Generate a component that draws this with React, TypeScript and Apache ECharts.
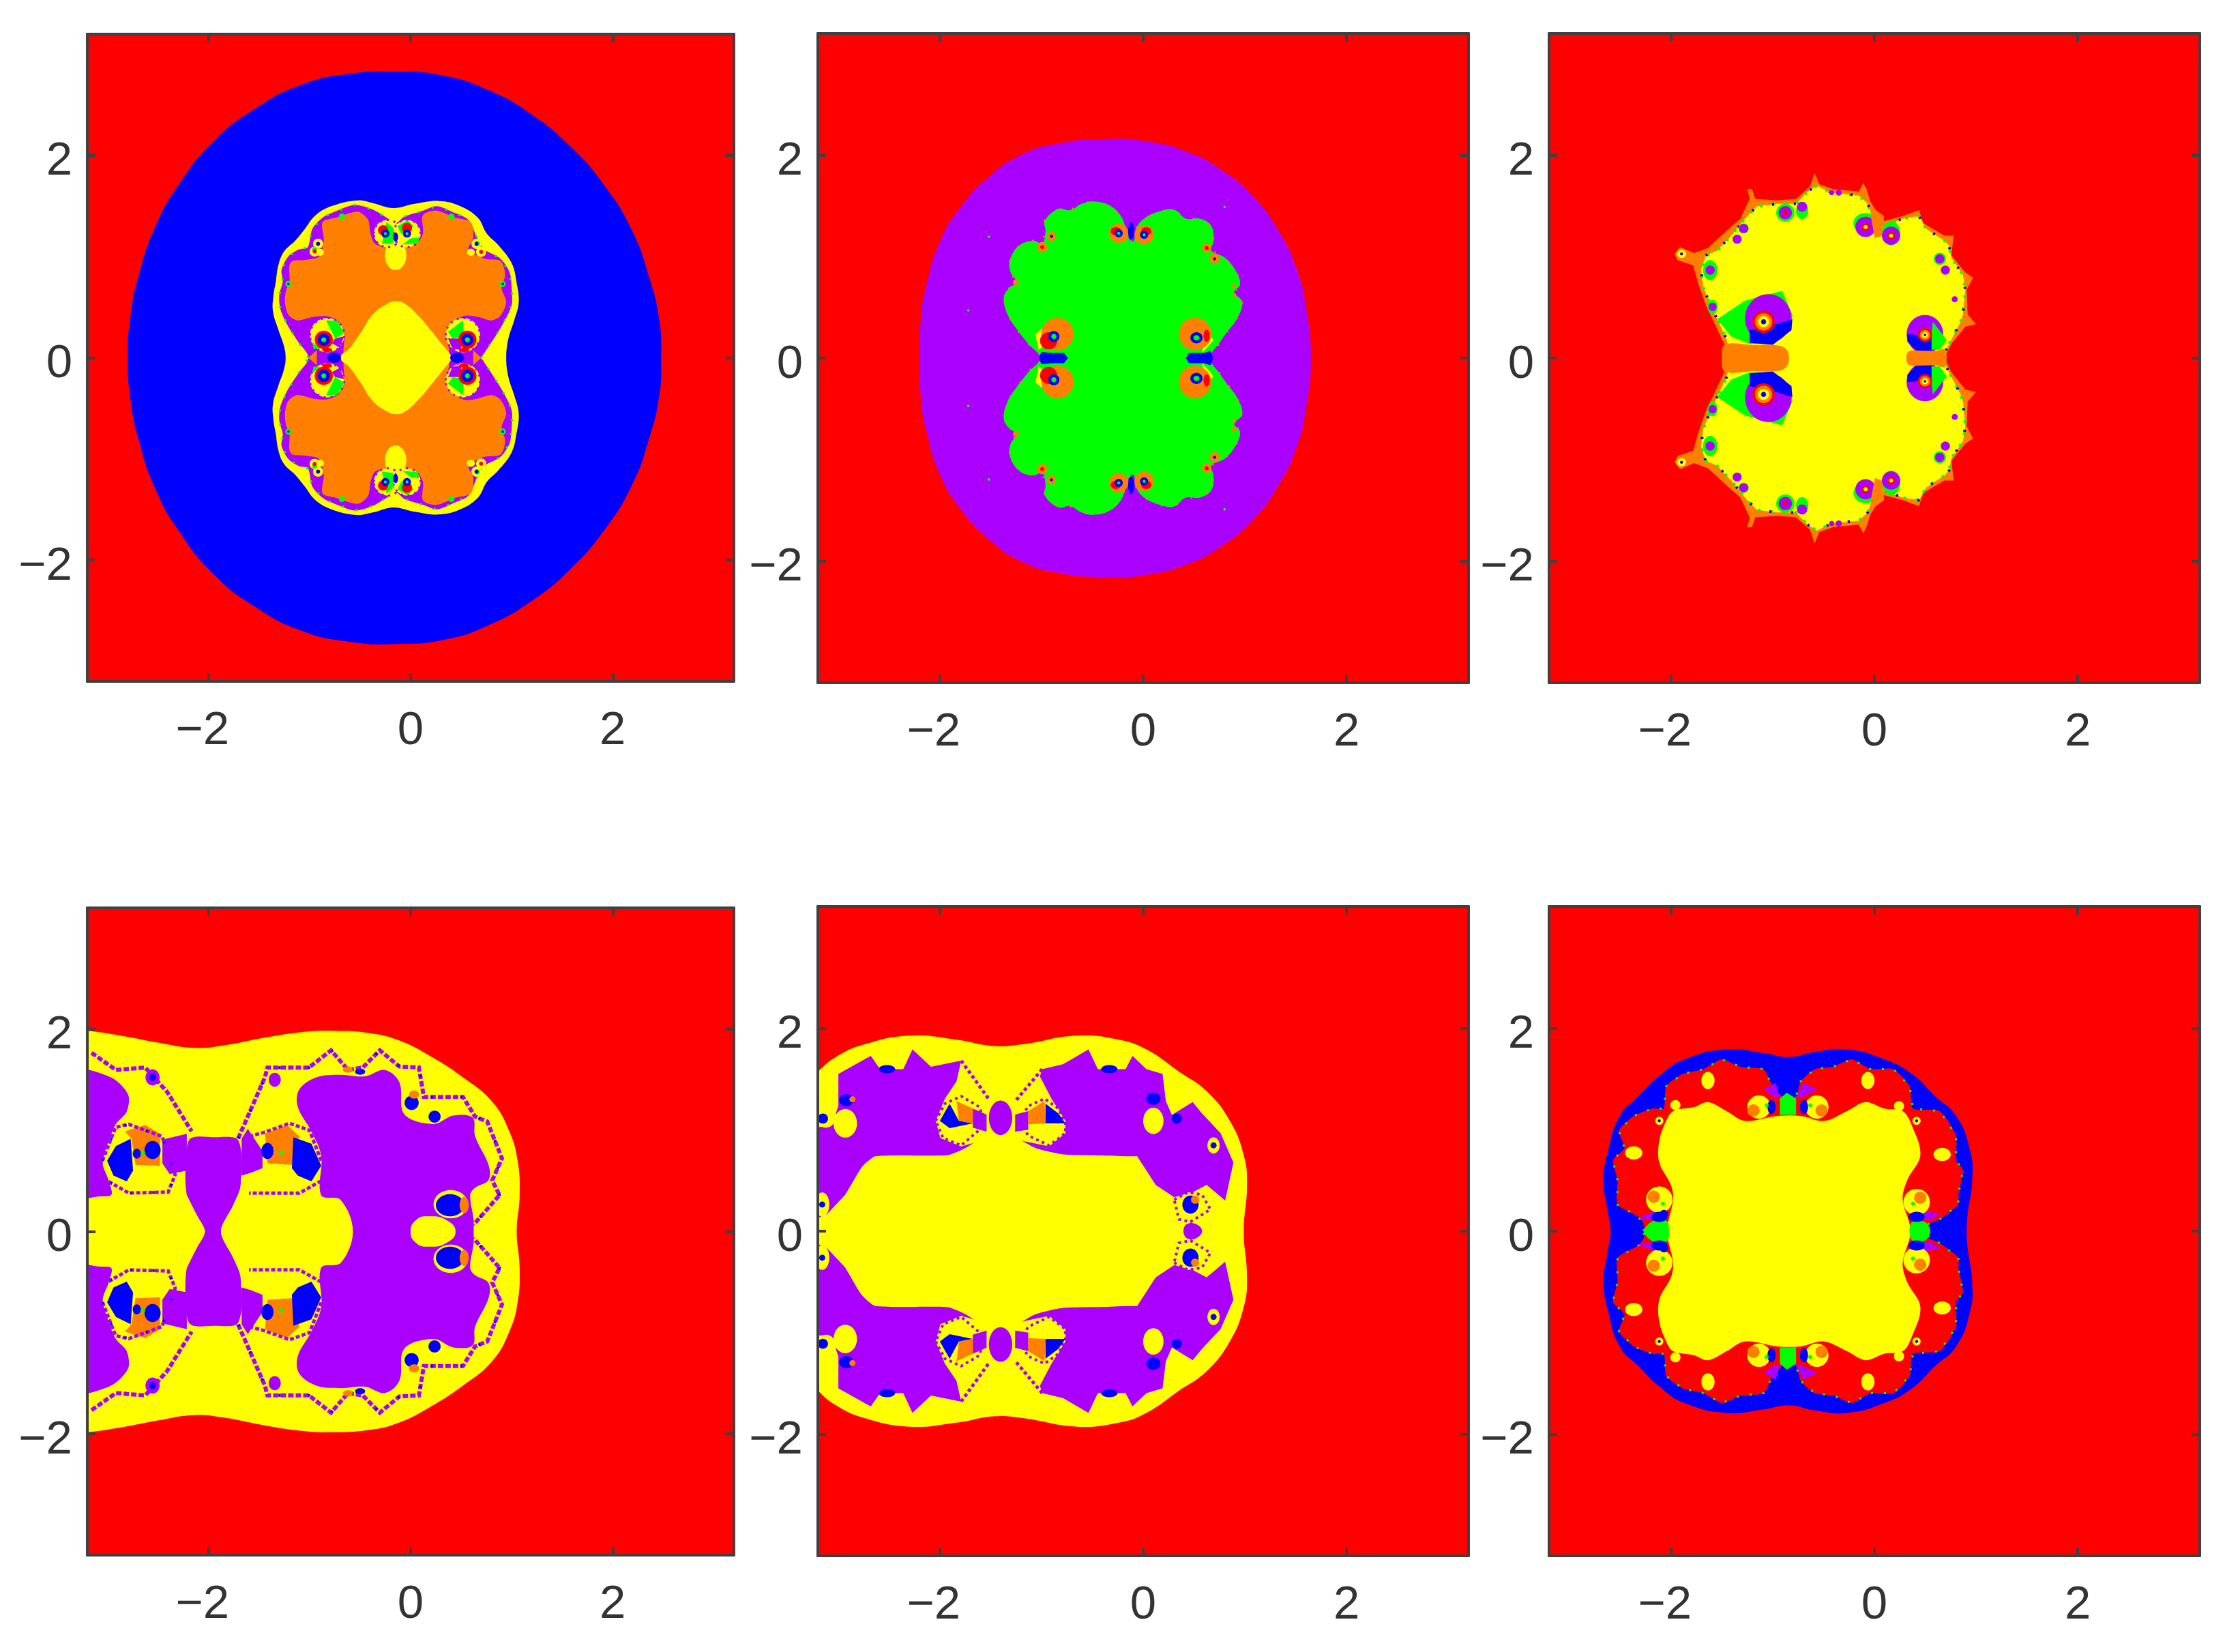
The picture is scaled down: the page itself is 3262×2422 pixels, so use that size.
import React, { useEffect, useRef } from "react";
import * as echarts from "echarts";

const tickValues = [-2, 0, 2];
const axisRange = [-3.2, 3.2];

// ---------- Panel 1 ----------
const p1Blue = [[-2.8,0],[-2.77,.43],[-2.69,.82],[-2.53,1.29],[-2.29,1.72],[-1.95,2.14],[-1.56,2.45],[-1.08,2.7],[-.59,2.81],[-.135,2.83],[.32,2.79],[.76,2.65],[1.19,2.41],[1.58,2.09],[1.92,1.7],[2.19,1.26],[2.36,.8],[2.46,.38],[2.48,0]];
const p1Yellow = [[-1.237,0],[-1.255,.12],[-1.31,.28],[-1.363,.46],[-1.357,.62],[-1.334,.754],[-1.31,.91],[-1.255,1.047],[-1.14,1.16],[-1.05,1.27],[-.94,1.41],[-.78,1.5],[-.533,1.555],[-.375,1.53],[-.17,1.48],[.03,1.52],[.28,1.55],[.483,1.503],[.664,1.386],[.754,1.228],[.867,1.115],[1,.935],[1.047,.754],[1.07,.55],[1.025,.37],[.968,.19],[.946,0]];
const p1Purple = [[-1.011,0],[-1.12,.167],[-1.221,.325],[-1.289,.483],[-1.3,.619],[-1.266,.754],[-1.278,.867],[-1.21,1.002],[-1.108,1.07],[-1.018,1.093],[-.973,1.273],[-.871,1.386],[-.758,1.442],[-.555,1.51],[-.375,1.465],[-.239,1.386],[-.149,1.33],[-.059,1.397],[.122,1.454],[.257,1.499],[.415,1.442],[.573,1.363],[.664,1.172],[.731,1.07],[.889,.98],[.98,.844],[1.002,.664],[1.002,.528],[.957,.415],[.867,.257],[.72,.032],[.698,0]];
const p1Orange = [[-.664,.077],[-.657,.257],[-.713,.359],[-.826,.411],[-.962,.404],[-1.12,.37],[-1.21,.427],[-1.244,.551],[-1.233,.664],[-1.199,.754],[-1.199,.912],[-1.165,.957],[-1.041,.968],[-.905,1.002],[-.86,1.16],[-.871,1.341],[-.736,1.386],[-.6,1.431],[-.51,1.442],[-.42,1.363],[-.397,1.228],[-.352,1.126],[-.239,1.097],[-.059,1.097],[.054,1.126],[.122,1.228],[.122,1.409],[.257,1.454],[.438,1.386],[.596,1.341],[.619,1.183],[.573,1.07],[.731,.98],[.889,.957],[.935,.822],[.901,.686],[.946,.551],[.889,.415],[.799,.37],[.664,.404],[.528,.415],[.393,.325],[.359,.212],[.381,.077]];
const p1Lens = [[-.691,0],[-.6,.099],[-.488,.257],[-.375,.427],[-.239,.528],[-.149,.558],[-.059,.535],[.077,.415],[.212,.257],[.302,.144],[.393,.032],[.404,0]];
const p1OrangeWedgeL = [[-1.011,0],[-.93,.07],[-.93,-.07]];
const p1OrangeWedgeR = [[.698,0],[.62,.07],[.62,-.07]];
const p1DropDots = [[-.149,1.013,.106,.147]];
const p1BigDots = [[-.826,.223,.169,.169],[.517,.223,.169,.169],[-.228,1.228,.135,.135],[-.036,1.228,.135,.135]];
const p1SideDots = [[-.95,1.05,.05,.05],[-.916,1.126,.05,.05],[.652,1.126,.05,.05],[.698,1.047,.05,.05]];
const p1GreenDots = [[-1.21,.73,.03,.03],[.912,.73,.03,.03],[-.68,1.397,.03,.03],[.404,1.397,.03,.03],[-.95,1.07,.025,.025],[.66,1.13,.025,.025]];
const p1YellowSmall = [[-.898,1.043,.04,.035],[.596,1.043,.04,.035]];
const p1GreenL = [[-.837,.37],[-.725,.366],[-.657,.246],[-.747,.19]];
const p1GreenL2 = [[-.973,.156],[-.894,.088],[-.962,.088]];
const p1PurpleL = [[-.747,.19],[-.657,.212],[-.702,.099],[-.781,.144]];
const p1GreenR = [[.37,.257],[.517,.37],[.528,.212],[.415,.19]];
const p1PurpleR = [[.37,.19],[.483,.19],[.506,.077],[.415,.088]];
const p1GreenT = [[-.239,1.341],[-.172,1.284],[-.172,1.138],[-.284,1.126]];
const p1GreenT2 = [[-.13,1.3],[-.03,1.36],[.03,1.3],[-.09,1.22]];
const p1GreenT3 = [[-.08,1.12],[.07,1.13],[.09,1.19],[0,1.18]];
const p1RedDots = [[-.86,.178,.09,.09],[.562,.178,.09,.09],[-.826,.077,.05,.02],[.528,.077,.05,.02],[-.273,1.262,.05,.05],[-.036,1.284,.05,.05],[-.95,1.05,.02,.02],[.698,1.047,.02,.02]];
const p1BlueDots = [[-.86,.178,.06,.06],[.562,.178,.06,.06],[-.25,1.228,.04,.04],[-.036,1.228,.04,.04],[-.149,1.194,.025,.045],[-.758,0,.068,.05],[.46,0,.068,.05],[-.916,1.126,.02,.02],[.652,1.126,.02,.02],[-1.21,.73,.012,.012],[.912,.73,.012,.012]];
const p1CoreDots = [[-.86,.178,.025,.025],[.562,.178,.025,.025],[-.25,1.228,.015,.015],[-.036,1.228,.015,.015]];

// ---------- Panel 2 ----------
const p2Purple = [[-2.2,0],[-2.187,.383],[-2.132,.722],[-1.995,1.157],[-1.79,1.496],[-1.517,1.787],[-1.198,2.005],[-.834,2.116],[-.378,2.16],[.032,2.136],[.442,2.029],[.761,1.86],[1.08,1.593],[1.33,1.254],[1.513,.867],[1.604,.479],[1.649,0]];
const p2Green = [[-1.016,0],[-1.13,.14],[-1.244,.286],[-1.335,.431],[-1.371,.6],[-1.312,.697],[-1.244,.746],[-1.303,.843],[-1.312,.964],[-1.221,1.109],[-1.084,1.157],[-.993,1.133],[-.961,1.254],[-.97,1.351],[-.834,1.472],[-.72,1.458],[-.606,1.521],[-.492,1.545],[-.333,1.506],[-.219,1.4],[-.164,1.254],[-.128,1.157],[-.091,1.157],[-.068,1.278],[.009,1.375],[.169,1.448],[.305,1.462],[.419,1.375],[.556,1.375],[.67,1.303],[.692,1.157],[.67,1.061],[.806,.988],[.92,.843],[.952,.722],[.897,.649],[.975,.552],[.92,.383],[.829,.262],[.761,.165],[.661,0]];
const p2BarL = [[-1.03,0],[-1,.06],[-.9,.05],[-.78,.05],[-.74,0]];
const p2BarR = [[.42,0],[.45,.05],[.6,.05],[.66,.07],[.69,0]];
const p2OrangeDots = [[-.843,.237,.16,.16],[.51,.237,.16,.16],[-.241,1.23,.095,.095],[.009,1.215,.095,.095],[-.993,1.094,.05,.05],[-.902,1.2,.045,.045],[.624,1.085,.045,.045],[.702,.978,.05,.05],[-1.253,.746,.028,.028],[.888,.707,.02,.02],[.897,.62,.018,.018]];
const p2RedDots = [[-.93,.17,.085,.085],[.624,.22,.03,.06],[-.27,1.25,.05,.04],[.03,1.25,.05,.04],[-.993,1.094,.02,.02],[.624,1.085,.02,.02]];
const p2YellowL = [[-1.03,.082],[-1.061,.237],[-.993,.295],[-.948,.14]];
const p2YellowR = [[.579,.05],[.66,.14],[.69,.18],[.62,.26]];
const p2BlueDots = [[-.879,.213,.055,.055],[.524,.2,.06,.055],[-.241,1.23,.04,.04],[.009,1.215,.04,.04],[-.118,1.254,.03,.085],[-.902,1.2,.015,.015],[.702,.978,.015,.015]];
const p2CoreDots = [[-.879,.213,.025,.025],[.524,.2,.03,.025],[-.241,1.23,.015,.015],[.009,1.215,.015,.015]];
const p2StrayGreen = [[-1.517,1.196,.012,.012],[-1.72,.47,.012,.012],[.8,1.49,.012,.012]];

// ---------- Panel 3 ----------
const p3Orange = [[-1.487,0],[-1.478,.14],[-1.546,.286],[-1.66,.528],[-1.729,.722],[-1.783,.915],[-1.934,.964],[-1.966,1.027],[-1.911,1.094],[-1.774,1.036],[-1.637,1.085],[-1.455,1.254],[-1.318,1.375],[-1.227,1.569],[-1.25,1.666],[-1.204,1.666],[-1.172,1.569],[-.953,1.554],[-.771,1.569],[-.634,1.69],[-.588,1.826],[-.543,1.714],[-.406,1.666],[-.155,1.642],[-.109,1.724],[-.078,1.666],[-.041,1.545],[.05,1.4],[.096,1.351],[.278,1.4],[.438,1.458],[.483,1.327],[.689,1.206],[.78,1.206],[.757,1.012],[.894,.843],[.971,.794],[.908,.673],[.917,.431],[.999,.334],[.894,.31],[.757,.14],[.689,0]];
const p3Yellow = [[-1.409,0],[-1.455,.189],[-1.523,.334],[-1.615,.528],[-1.683,.697],[-1.706,.867],[-1.66,1.012],[-1.546,1.061],[-1.409,1.206],[-1.273,1.375],[-1.158,1.496],[-.953,1.521],[-.771,1.521],[-.657,1.642],[-.566,1.7],[-.429,1.632],[-.155,1.603],[-.064,1.521],[-.018,1.375],[.096,1.303],[.278,1.375],[.438,1.4],[.506,1.278],[.689,1.157],[.734,1.109],[.757,.988],[.871,.818],[.894,.673],[.871,.431],[.848,.358],[.734,.14],[.666,0]];
const p3BarL = [[-1.5,0],[-1.47,.13],[-1.2,.13],[-.95,.125],[-.87,.09],[-.84,0]];
const p3BarR = [[.315,0],[.33,.06],[.38,.075],[.6,.07],[.689,.085],[.71,0]];
const p3Eye = [[-1.546,.383],[-1.273,.567],[-.908,.663],[-.807,.431],[-.816,.286],[-.999,.15],[-1.227,.14],[-1.409,.213]];
const p3EyeBlue = [[-1.227,.15],[-.999,.131],[-.816,.276],[-.807,.383],[-.999,.324],[-1.227,.276]];
const p3EyeRGreen = [[.575,.358],[.711,.179],[.643,.082],[.561,.082],[.561,.237]];
const p3EyeRBlue = [[.324,.237],[.561,.213],[.561,.073],[.415,.073],[.324,.165]];
const p3Tongue = [[-.041,1.496],[.096,1.4],[.073,1.206],[.005,1.182],[-.027,1.351]];
const p3GreenDots = [[-.876,1.433,.09,.09],[-.711,1.45,.06,.08],[-.087,1.33,.12,.1],[.164,1.23,.09,.12],[-1.615,.867,.07,.1],[-1.592,.504,.05,.07],[.643,.978,.06,.06],[-1.286,1.278,.05,.05]];
const p3PurpleDots = [[-1.044,.39,.228,.24],[.497,.235,.18,.19],[-.876,1.433,.065,.065],[-.711,1.492,.05,.05],[-.087,1.293,.1,.1],[.164,1.206,.09,.09],[-1.286,1.278,.045,.045],[-1.35,1.172,.045,.045],[-1.615,.867,.045,.045],[.698,.867,.045,.045],[.643,.978,.045,.045],[-1.592,.504,.04,.04],[-.35,1.63,.03,.03],[-.42,1.63,.025,.025],[.79,.58,.03,.03]];
const p3RedDots = [[-1.09,.358,.11,.11],[.497,.228,.07,.07],[-.087,1.293,.04,.04],[.164,1.206,.04,.04],[-.876,1.433,.025,.025]];
const p3OrangeDots = [[-1.09,.358,.085,.085],[.497,.228,.05,.05]];
const p3CoreYellow = [[-1.09,.358,.055,.055],[.497,.228,.03,.03],[-.087,1.293,.02,.02],[.164,1.206,.02,.02],[-1.897,1.027,.045,.04]];
const p3CoreBlue = [[-1.09,.358,.025,.025],[.497,.228,.012,.012],[-1.897,1.027,.015,.015]];

// ---------- Panel 4 ----------
const p4Yellow = [[-3.5,0],[-3.5,2.0],[-3.2,1.985],[-2.868,1.937],[-2.481,1.864],[-2.143,1.816],[-1.852,1.84],[-1.466,1.913],[-1.079,1.971],[-.788,1.985],[-.401,1.961],[-.111,1.888],[.179,1.743],[.518,1.524],[.808,1.282],[.977,.99],[1.059,.699],[1.079,.359],[1.05,0]];
const p4Blob = [[-.571,0],[-.692,.311],[-.885,.359],[-.885,.748],[-.982,.99],[-1.117,1.233],[-1.103,1.403],[-.933,1.524],[-.692,1.549],[-.45,1.534],[-.256,1.597],[-.111,1.476],[-.063,1.16],[.227,1.063],[.421,1.146],[.614,1.126],[.638,.942],[.774,.65],[.769,.505],[.638,.432],[.59,.359],[.624,.117],[.624,0]];
const p4Hourglass = [[-2.036,0],[-2.118,.165],[-2.215,.359],[-2.225,.699],[-2.181,.917],[-1.949,.932],[-1.707,.903],[-1.683,.456],[-1.756,.262],[-1.877,0]];
const p4LeftBlob = [[-3.3,1.573],[-2.965,1.524],[-2.796,1.354],[-2.81,1.184],[-2.917,1.063],[-2.989,.893],[-3.047,.675],[-2.989,.505],[-2.965,.359],[-3.207,.311],[-3.3,.311]];
const p4CigarR = [[-1.877,0],[-1.804,.141],[-1.707,.286],[-1.562,.335],[-1.175,.335],[-.885,.311],[-.716,.238],[-.595,.092],[-.58,0]];
const p4CigarL = [[-3.3,0],[-3.3,.31],[-3.1,.345],[-2.6,.36],[-2.215,.359],[-2.118,.165],[-2.036,0]];
const p4Petal = [[0,0],[.058,.117],[.179,.15],[.348,.117],[.445,0]];
const p4PieceL = [[-2.457,.908],[-2.215,.966],[-2.215,.602],[-2.385,.568],[-2.457,.675]];
const p4PieceR = [[-1.673,.917],[-1.611,1.015],[-1.466,.796],[-1.466,.626],[-1.586,.578],[-1.673,.553]];
const p4SquareLBlue = [[-3.004,.699],[-2.917,.845],[-2.771,.917],[-2.747,.602],[-2.81,.495],[-2.941,.553]];
const p4SquareLOrange = [[-2.829,.99],[-2.626,1.053],[-2.481,.966],[-2.481,.65],[-2.723,.66],[-2.762,.917]];
const p4SquareROrange = [[-1.441,.966],[-1.224,1.053],[-1.103,.942],[-1.175,.66],[-1.417,.675]];
const p4SquareRBlue = [[-1.161,.932],[-.982,.869],[-.885,.65],[-.982,.495],[-1.117,.553],[-1.175,.626]];
const p4NetA = [[-3.158,1.767],[-2.917,1.597],[-2.626,1.621],[-2.409,1.379],[-2.167,.99]];
const p4NetB = [[-1.707,.92],[-1.442,1.524],[-1.417,1.621],[-1.006,1.621],[-.788,1.791],[-.619,1.597],[-.474,1.621],[-.305,1.791],[-.111,1.631],[.082,1.621],[.131,1.33],[.518,1.33],[.638,1.136],[.759,1.087],[.904,.723],[.808,.505],[.88,.359],[.624,.068]];
const p4NetC = [[-3.05,.7],[-2.92,1.03],[-2.79,1.06],[-2.46,.94],[-2.33,.56],[-2.4,.39],[-2.79,.38],[-3.0,.5]];
const p4NetD = [[-.885,.7],[-1.0,1.0],[-1.2,1.07],[-1.45,.98],[-1.67,.92]];
const p4NetE = [[-.885,.5],[-1.1,.38],[-1.6,.38]];
const p4BlueDots = [[-2.554,.806,.08,.09],[-2.71,.77,.04,.05],[-1.417,.796,.06,.08],[.01,1.272,.07,.07],[.237,1.136,.06,.06],[.39,.26,.14,.11],[-2.554,1.524,.035,.035],[-.5,1.58,.05,.03]];
const p4OrangeDots = [[.034,1.354,.05,.04],[.53,.262,.045,.08],[-.62,1.6,.05,.03]];
const p4GreenDots = [[-2.65,.78,.022,.022],[-1.282,.78,.022,.022]];
const p4PurpleDots = [[-2.554,1.524,.07,.08],[-1.345,1.5,.06,.07]];
const p4YellowDots = [[.082,1.146,.05,.05],[.397,.27,.17,.14]];

// ---------- Panel 5 ----------
const p5Yellow = [[-3.5,0],[-3.5,1.25],[-3.2,1.57],[-3.02,1.718],[-2.747,1.84],[-2.292,1.927],[-1.836,1.888],[-1.472,1.825],[-1.198,1.84],[-.651,1.927],[-.241,1.888],[.032,1.791],[.351,1.573],[.624,1.379],[.852,1.087],[.989,.748],[1.021,.456],[.989,0]];
const p5Band = [[-3.3,1.015],[-3.066,1.039],[-2.998,1.233],[-2.998,1.549],[-2.679,1.728],[-2.588,1.597],[-2.36,1.597],[-2.269,1.791],[-2.087,1.621],[-1.79,1.68],[-1.836,1.476],[-1.95,1.306],[-2.041,1.087],[-1.995,.917],[-1.79,.835],[-1.585,.893],[-1.198,.893],[-.925,.835],[-.765,.966],[-.765,1.087],[-.902,1.306],[-1.016,1.524],[-.993,1.597],[-.788,1.646],[-.538,1.791],[-.446,1.597],[-.173,1.597],[-.105,1.728],[.032,1.597],[.191,1.549],[.223,1.282],[.282,1.146],[.487,1.272],[.579,1.16],[.761,.966],[.888,.675],[.806,.301],[.624,.456],[.487,.383],[.305,.335],[.123,.456],[-.059,.738],[-2.61,.738],[-2.77,.626],[-2.929,.359],[-3.112,.165],[-3.3,.09]];
const p5Center = [[-3.203,0],[-3.066,.165],[-2.929,.359],[-2.77,.626],[-2.633,.738],[-1.927,.748],[-1.745,.82],[-1.563,.932],[-1.403,.951],[-1.244,.917],[-1.062,.82],[-.788,.757],[-.196,.738],[-.036,.675],[.123,.408],[.305,.165],[.396,0]];
const p5Lens = [[.396,0],[.43,.07],[.52,.07],[.58,0]];
const p5SquareL = [[-2.041,1.087],[-1.95,1.257],[-1.79,1.33],[-1.608,1.223],[-1.563,1.039],[-1.79,.845],[-1.968,.917]];
const p5SquareLBlue = [[-2,1.087],[-1.904,1.257],[-1.813,1.087],[-1.676,1.063],[-1.904,1.015]];
const p5SquareLOrange = [[-1.836,1.282],[-1.676,1.209],[-1.676,1.063],[-1.813,1.087]];
const p5SquareR = [[-1.221,1.087],[-1.13,1.233],[-.97,1.306],[-.834,1.209],[-.765,1.063],[-.765,.966],[-.925,.845],[-1.13,.942]];
const p5SquareROrange = [[-1.13,1.184],[-.97,1.282],[-.961,1.063],[-1.13,1.053]];
const p5SquareRBlue = [[-.961,1.257],[-.834,1.16],[-.765,1.063],[-.961,1.063]];
const p5PieceL = [[-1.676,1.209],[-1.54,1.15],[-1.54,.98],[-1.676,1.02]];
const p5PieceR = [[-1.26,1.15],[-1.13,1.184],[-1.13,1.0],[-1.26,.98]];
const p5MidSquare = [[.305,.311],[.442,.383],[.579,.359],[.661,.214],[.465,.092],[.351,.117]];
const p5LineA = [[-1.79,1.68],[-1.51,1.29]];
const p5LineB = [[-.993,1.597],[-1.25,1.29]];
const p5YellowDots = [[-2.93,1.063,.115,.14],[.1,1.087,.1,.13],[-3.157,.262,.07,.12],[-3.12,1.14,.1,.12],[.692,.845,.06,.08]];
const p5PurpleDots = [[-1.403,1.117,.115,.17]];
const p5BlueDots = [[-2.92,1.29,.07,.06],[-3.15,1.11,.05,.05],[.1,1.306,.07,.06],[.33,1.11,.05,.05],[-2.52,1.597,.08,.04],[-.333,1.597,.08,.04],[.692,.845,.03,.03],[.465,.262,.08,.09],[-3.157,.262,.03,.03]];
const p5OrangeDots = [[.51,.31,.04,.04],[-2.86,1.3,.03,.03]];

// ---------- Panel 6 ----------
const p6Blue = [[-2.595,0],[-2.627,.214],[-2.664,.505],[-2.618,.796],[-2.504,1.136],[-2.322,1.33],[-2.094,1.549],[-1.865,1.694],[-1.455,1.791],[-1.09,1.757],[-.839,1.718],[-.588,1.767],[-.269,1.791],[.096,1.694],[.369,1.549],[.597,1.33],[.803,1.136],[.94,.796],[.962,.505],[.917,.165],[.908,0]];
const p6Red = [[-2.267,0],[-2.267,.068],[-2.322,.141],[-2.527,.262],[-2.527,.505],[-2.572,.699],[-2.458,.82],[-2.513,.99],[-2.367,1.136],[-2.185,1.209],[-2.071,1.209],[-2.048,1.427],[-1.888,1.549],[-1.683,1.597],[-1.501,1.694],[-1.318,1.621],[-1.09,1.597],[-.999,1.427],[-.908,1.33],[-.771,1.33],[-.725,1.476],[-.588,1.597],[-.406,1.621],[-.223,1.694],[-.041,1.597],[.187,1.597],[.347,1.427],[.379,1.209],[.643,1.184],[.803,.942],[.803,.699],[.871,.602],[.826,.359],[.826,.262],[.643,.117],[.529,.068],[.529,0]];
const p6Yellow = [[-2.039,0],[-1.98,.311],[-2.002,.456],[-2.116,.675],[-2.116,.893],[-2.048,1.087],[-1.979,1.184],[-1.774,1.223],[-1.637,1.272],[-1.455,1.184],[-1.273,1.087],[-.953,1.136],[-.725,1.136],[-.497,1.087],[-.269,1.184],[-.087,1.272],[.096,1.209],[.278,1.184],[.369,1.039],[.452,.748],[.324,.505],[.278,.311],[.347,.068],[.347,0]];
const p6BarL = [[-2.27,0],[-2.18,.1],[-2.04,.1],[-2.02,0]];
const p6BarR = [[.347,0],[.37,.09],[.5,.09],[.55,0]];
const p6Block = [[-.93,1.146],[-.93,1.306],[-.862,1.364],[-.771,1.306],[-.771,1.146]];
const p6PurpleA = [[-1.09,1.4],[-.97,1.46],[-.93,1.31],[-1,1.33]];
const p6PurpleB = [[-.77,1.31],[-.7,1.46],[-.56,1.4],[-.7,1.33]];
const p6PurpleC = [[-2.33,.13],[-2.18,.11],[-2.05,.2],[-2.15,.2]];
const p6PurpleD = [[.4,.11],[.55,.11],[.65,.17],[.5,.2]];
const p6YellowDots = [[-1.136,1.223,.115,.115],[-.566,1.223,.115,.115],[-2.116,.311,.13,.13],[.415,.286,.13,.13],[-1.637,1.485,.065,.085],[-.064,1.485,.065,.085],[-2.367,.772,.085,.065],[.666,.757,.085,.065],[-1.957,1.243,.05,.05],[.242,1.233,.05,.05],[-2.116,1.087,.04,.04],[.415,1.087,.04,.04]];
const p6OrangeDots = [[-1.19,1.19,.06,.06],[-.52,1.19,.06,.06],[-2.17,.34,.06,.06],[.45,.33,.06,.06]];
const p6BlueDots = [[-1.012,1.223,.04,.07],[-.693,1.223,.04,.07],[-2.116,.141,.08,.05],[.415,.141,.08,.05],[-2.07,.17,.04,.04],[-2.116,1.087,.015,.015],[.415,1.087,.015,.015]];
const p6GreenDots = [[-1.06,1.24,.02,.02],[-.63,1.24,.02,.02],[-2.08,.27,.02,.02],[.38,.27,.02,.02]];

const RED = "#ff0000", BLUE = "#0000ff", YELLOW = "#ffff00", GREEN = "#00ff00", ORANGE = "#ff8000", PURPLE = "#aa00ff";
const FRAME = "#404040", TEXT = "#333333";

type Layer = { kind: "hull" | "patch" | "dots" | "line"; pts: number[][]; fill?: string; smooth?: number; stroke?: string; width?: number; dash?: number[] };
const hull = (pts: number[][], fill: string, extra: Partial<Layer> = {}): Layer => ({ kind: "hull", pts, fill, ...extra });
const patch = (pts: number[][], fill: string, extra: Partial<Layer> = {}): Layer => ({ kind: "patch", pts, fill, ...extra });
const dots = (pts: number[][], fill: string, extra: Partial<Layer> = {}): Layer => ({ kind: "dots", pts, fill, ...extra });
const line = (pts: number[][], stroke: string, width: number, dash?: number[]): Layer => ({ kind: "line", pts, stroke, width, dash });
const speck = (pts: number[][], stroke: string, width = 4, dash = [4, 12]): Layer => ({ kind: "hull", pts, stroke, width, dash });

const panels: { rect: number[]; layers: Layer[] }[] = [
  { rect: [128, 50, 948, 949], layers: [
    hull(p1Blue, BLUE, { smooth: 0.5 }),
    hull(p1Yellow, YELLOW, { smooth: 0.4 }),
    hull(p1Purple, PURPLE, { smooth: 0.3 }),
    speck(p1Purple, GREEN, 3, [3, 18]),
    hull(p1Orange, ORANGE, { smooth: 0.3 }),
    patch(p1OrangeWedgeL, ORANGE), patch(p1OrangeWedgeR, ORANGE),
    hull(p1Lens, YELLOW, { smooth: 0.5 }),
    dots(p1DropDots, YELLOW),
    dots(p1BigDots, YELLOW, { stroke: PURPLE, width: 3, dash: [3, 7] }),
    dots(p1SideDots, YELLOW),
    dots(p1GreenDots, GREEN),
    dots(p1YellowSmall, YELLOW),
    patch(p1GreenL, GREEN), patch(p1GreenL2, GREEN), patch(p1PurpleL, PURPLE), patch(p1GreenR, GREEN), patch(p1PurpleR, PURPLE),
    patch(p1GreenT, GREEN), patch(p1GreenT2, GREEN), patch(p1GreenT3, GREEN),
    dots(p1RedDots, RED),
    dots(p1BlueDots, BLUE),
    dots(p1CoreDots, GREEN),
  ]},
  { rect: [1199, 49, 954, 952], layers: [
    hull(p2Purple, PURPLE, { smooth: 0.5 }),
    hull(p2Green, GREEN, { smooth: 0.4 }),
    speck(p2Green, ORANGE, 3, [2, 22]),
    hull(p2BarL, BLUE), hull(p2BarR, BLUE),
    patch(p2YellowL, YELLOW), patch(p2YellowR, YELLOW),
    dots(p2OrangeDots, ORANGE),
    dots(p2RedDots, RED),
    dots(p2BlueDots, BLUE),
    dots(p2CoreDots, GREEN),
    dots(p2StrayGreen, GREEN),
  ]},
  { rect: [2271, 49, 954, 952], layers: [
    hull(p3Orange, ORANGE),
    hull(p3Yellow, YELLOW),
    speck(p3Yellow, GREEN, 4, [4, 14]),
    speck(p3Yellow, BLUE, 4, [3, 29]),
    patch(p3Eye, GREEN),
    dots(p3GreenDots, GREEN),
    dots(p3PurpleDots, PURPLE),
    patch(p3EyeBlue, BLUE),
    patch(p3EyeRGreen, GREEN), patch(p3EyeRBlue, BLUE),
    hull(p3BarL, ORANGE, { smooth: 0.4 }), hull(p3BarR, ORANGE, { smooth: 0.4 }),
    patch(p3Tongue, ORANGE),
    dots(p3RedDots, RED),
    dots(p3OrangeDots, ORANGE),
    dots(p3CoreYellow, YELLOW),
    dots(p3CoreBlue, BLUE),
  ]},
  { rect: [128, 1331, 948, 949], layers: [
    hull(p4Yellow, YELLOW, { smooth: 0.45 }),
    hull(p4Blob, PURPLE, { smooth: 0.35 }),
    hull(p4Hourglass, PURPLE, { smooth: 0.3 }),
    patch(p4LeftBlob, PURPLE, { smooth: 0.3 }),
    hull(p4CigarR, YELLOW, { smooth: 0.4 }),
    hull(p4CigarL, YELLOW),
    hull(p4Petal, YELLOW, { smooth: 0.5 }),
    patch(p4PieceL, PURPLE), patch(p4PieceR, PURPLE),
    patch(p4SquareLOrange, ORANGE), patch(p4SquareLBlue, BLUE),
    patch(p4SquareROrange, ORANGE), patch(p4SquareRBlue, BLUE),
    line(p4NetA, PURPLE, 6, [8, 3]), line(p4NetB, PURPLE, 6, [8, 3]), line(p4NetC, PURPLE, 5, [6, 3]), line(p4NetD, PURPLE, 5, [6, 3]), line(p4NetE, PURPLE, 5, [6, 3]),
    line(p4NetB, BLUE, 4, [3, 40]), line(p4NetC, BLUE, 4, [3, 30]),
    dots(p4YellowDots, YELLOW),
    dots(p4PurpleDots, PURPLE),
    dots(p4BlueDots, BLUE),
    dots(p4OrangeDots, ORANGE),
    dots(p4GreenDots, GREEN),
  ]},
  { rect: [1199, 1329, 954, 952], layers: [
    hull(p5Yellow, YELLOW, { smooth: 0.45 }),
    patch(p5Band, PURPLE),
    hull(p5Center, YELLOW, { smooth: 0.2 }),
    hull(p5Lens, PURPLE, { smooth: 0.4 }),
    patch(p5SquareL, YELLOW, { stroke: PURPLE, width: 4, dash: [4, 5] }),
    patch(p5PieceL, PURPLE),
    patch(p5SquareLBlue, BLUE), patch(p5SquareLOrange, ORANGE),
    patch(p5SquareR, YELLOW, { stroke: PURPLE, width: 4, dash: [4, 5] }),
    patch(p5PieceR, PURPLE),
    patch(p5SquareROrange, ORANGE), patch(p5SquareRBlue, BLUE),
    patch(p5MidSquare, YELLOW, { stroke: PURPLE, width: 4, dash: [4, 5] }),
    line(p5LineA, PURPLE, 5, [5, 4]), line(p5LineB, PURPLE, 5, [5, 4]),
    dots(p5YellowDots, YELLOW),
    dots(p5PurpleDots, PURPLE),
    dots(p5BlueDots, BLUE),
    dots(p5OrangeDots, ORANGE),
  ]},
  { rect: [2271, 1329, 954, 952], layers: [
    hull(p6Blue, BLUE, { smooth: 0.5 }),
    hull(p6Red, RED, { smooth: 0.2 }),
    speck(p6Red, GREEN, 3, [3, 16]),
    patch(p6PurpleA, PURPLE), patch(p6PurpleB, PURPLE), patch(p6PurpleC, PURPLE), patch(p6PurpleD, PURPLE),
    hull(p6Yellow, YELLOW, { smooth: 0.35 }),
    hull(p6BarL, GREEN, { smooth: 0.3 }), hull(p6BarR, GREEN, { smooth: 0.3 }),
    patch(p6Block, GREEN),
    dots(p6YellowDots, YELLOW),
    dots(p6OrangeDots, ORANGE),
    dots(p6BlueDots, BLUE),
    dots(p6GreenDots, GREEN),
  ]},
];

const mirror = (pts: number[][]) => pts.map(([x, y]) => [x, -y]);

function makeRender(layers: Layer[]) {
  return (params: any, api: any) => {
    const L = layers[params.dataIndex];
    const style: any = { fill: L.fill || "none", stroke: L.stroke || "none", lineWidth: L.width || 0, lineDash: L.dash };
    const poly = (pts: number[][]) => ({
      type: "polygon",
      shape: { points: pts.map((p) => api.coord(p)), smooth: L.smooth || 0 },
      style,
    });
    const children: any[] = [];
    if (L.kind === "hull") children.push(poly([...L.pts, ...mirror(L.pts).reverse().filter((p) => p[1] !== 0)]));
    if (L.kind === "patch") children.push(poly(L.pts), poly(mirror(L.pts)));
    if (L.kind === "line") {
      for (const pts of [L.pts, mirror(L.pts)]) {
        children.push({ type: "polyline", shape: { points: pts.map((p) => api.coord(p)) }, style: { fill: "none", stroke: L.stroke, lineWidth: L.width, lineDash: L.dash } });
      }
    }
    if (L.kind === "dots") {
      for (const [x, y, rx, ry] of L.pts) {
        const ys = y === 0 ? [y] : [y, -y];
        for (const yy of ys) {
          const c = api.coord([x, yy]);
          const s = api.size([rx, ry]);
          children.push({ type: "ellipse", shape: { cx: c[0], cy: c[1], rx: s[0], ry: s[1] }, style });
        }
      }
    }
    return { type: "group", children };
  };
}

const xLabel = (v: number) => (v < 0 ? `{n|\u2212${Math.abs(v)}}` : `{p|${v}}`);
const yLabel = (v: number) => `{a|${v < 0 ? "\u2212" + Math.abs(v) : v}}`;
const FONT = { fontFamily: "Liberation Sans", fontSize: 69, color: TEXT };

function buildOption() {
  const grid: any[] = [];
  const xAxis: any[] = [];
  const yAxis: any[] = [];
  const series: any[] = [];
  panels.forEach((p, i) => {
    const [left, top, width, height] = p.rect;
    grid.push({ left, top, width, height, show: true, backgroundColor: RED, borderWidth: 0 });
    const common = {
      type: "value", min: axisRange[0], max: axisRange[1], gridIndex: i, z: 10,
      splitLine: { show: false }, minorTick: { show: false },
      axisLine: { show: true, onZero: false, lineStyle: { color: FRAME, width: 4 } },
      axisTick: { show: true, inside: true, length: 12, customValues: tickValues, lineStyle: { color: FRAME, width: 4 } },
    };
    xAxis.push({ ...common, position: "bottom",
      axisLabel: { show: true, customValues: tickValues, margin: 34, formatter: xLabel, ...FONT,
        rich: { n: { ...FONT, padding: [0, 18, 0, 0] }, p: { ...FONT } } } });
    xAxis.push({ ...common, position: "top", axisLabel: { show: false } });
    yAxis.push({ ...common, position: "left",
      axisLabel: { show: true, customValues: tickValues, margin: 22, formatter: yLabel, ...FONT,
        rich: { a: { ...FONT, padding: [10, 0, 0, 0] } } } });
    yAxis.push({ ...common, position: "right", axisLabel: { show: false } });
    series.push({
      type: "custom", xAxisIndex: i * 2, yAxisIndex: i * 2, clip: true, silent: true,
      renderItem: makeRender(p.layers),
      data: p.layers.map(() => [0, 0]),
    });
  });
  return { animation: false, backgroundColor: "#ffffff", grid, xAxis, yAxis, series, tooltip: { show: false } };
}

export default function App() {
  const ref = useRef<HTMLDivElement>(null);
  useEffect(() => {
    const chart = echarts.init(ref.current!, undefined, { renderer: "svg" });
    chart.setOption(buildOption() as any);
    return () => chart.dispose();
  }, []);
  return <div ref={ref} style={{ position: "absolute", left: 0, top: 0, width: 3262, height: 2422 }} />;
}
